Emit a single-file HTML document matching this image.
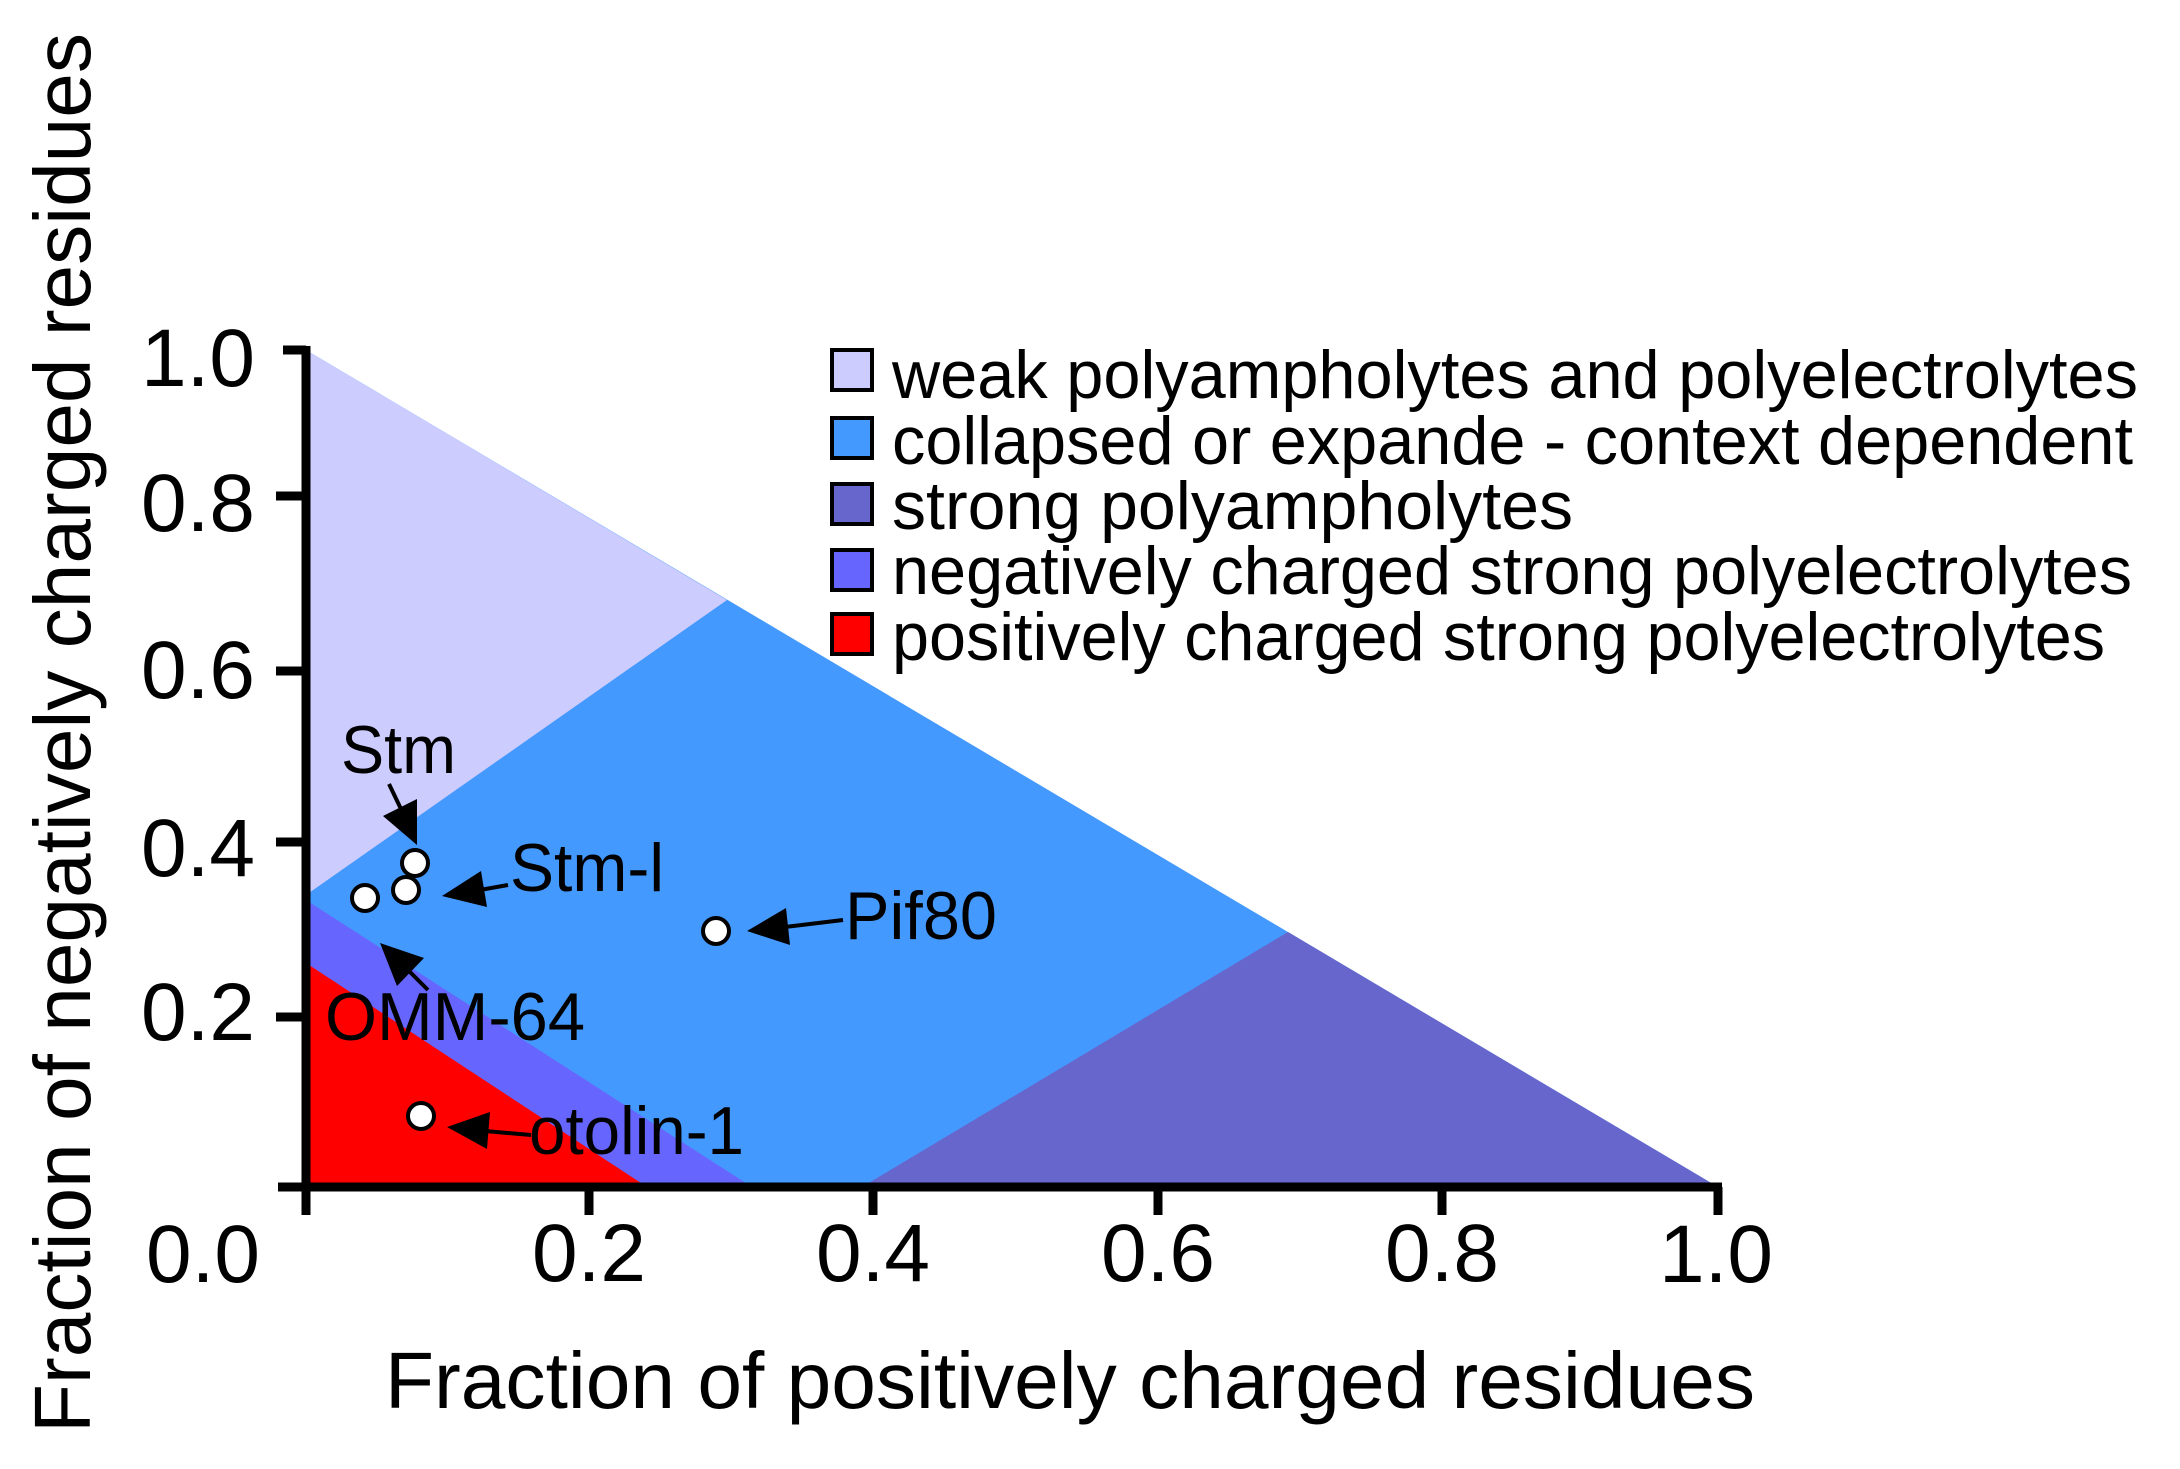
<!DOCTYPE html>
<html><head><meta charset="utf-8"><style>html,body{margin:0;padding:0;background:#fff}svg{display:block}</style></head>
<body>
<svg width="2180" height="1469" viewBox="0 0 2180 1469" xmlns="http://www.w3.org/2000/svg" font-family="Liberation Sans, Arial, sans-serif">
<polygon points="306,1187 1718,1187 306,350" fill="#4499ff"/>
<polygon points="306,350 727,600 306,895" fill="#ccccff"/>
<polygon points="862,1187 1288,932 1718,1187" fill="#6666cc"/>
<polygon points="306,900 752,1187 306,1187" fill="#6666ff"/>
<polygon points="306,963 647,1187 306,1187" fill="#ff0000"/>
<g stroke="#000" stroke-width="9" fill="none">
<line x1="306" y1="346" x2="306" y2="1191"/>
<line x1="278" y1="1187" x2="1722" y2="1187"/>
<line x1="283" y1="350" x2="306" y2="350"/>
<line x1="276" y1="496" x2="306" y2="496"/>
<line x1="276" y1="671" x2="306" y2="671"/>
<line x1="276" y1="842" x2="306" y2="842"/>
<line x1="276" y1="1017" x2="306" y2="1017"/>
<line x1="306" y1="1187" x2="306" y2="1215"/>
<line x1="589" y1="1187" x2="589" y2="1215"/>
<line x1="873" y1="1187" x2="873" y2="1215"/>
<line x1="1158" y1="1187" x2="1158" y2="1215"/>
<line x1="1442" y1="1187" x2="1442" y2="1215"/>
<line x1="1718" y1="1187" x2="1718" y2="1215"/>
</g>
<g font-size="82" fill="#000" text-anchor="end">
<text x="255" y="386">1.0</text>
<text x="255" y="531">0.8</text>
<text x="255" y="698">0.6</text>
<text x="255" y="876">0.4</text>
<text x="255" y="1040">0.2</text>
<text x="260" y="1282">0.0</text>
</g>
<g font-size="82" fill="#000" text-anchor="middle">
<text x="589" y="1281">0.2</text>
<text x="873" y="1281">0.4</text>
<text x="1158" y="1281">0.6</text>
<text x="1442" y="1281">0.8</text>
<text x="1716" y="1282">1.0</text>
</g>
<text x="385" y="1408" font-size="80" textLength="1370" lengthAdjust="spacingAndGlyphs">Fraction of positively charged residues</text>
<text transform="translate(90,1433) rotate(-90)" font-size="80" textLength="1400" lengthAdjust="spacingAndGlyphs">Fraction of negatively charged residues</text>
<g stroke="#000" stroke-width="4">
<rect x="832" y="350" width="40" height="40" fill="#ccccff"/>
<rect x="832" y="418" width="40" height="40" fill="#4499ff"/>
<rect x="832" y="484" width="40" height="40" fill="#6666cc"/>
<rect x="832" y="550" width="40" height="40" fill="#6666ff"/>
<rect x="832" y="614" width="40" height="40" fill="#ff0000"/>
</g>
<g font-size="68" fill="#000">
<text x="892" y="398" textLength="1246" lengthAdjust="spacingAndGlyphs">weak polyampholytes and polyelectrolytes</text>
<text x="892" y="464" textLength="1241" lengthAdjust="spacingAndGlyphs">collapsed or expande - context dependent</text>
<text x="892" y="529" textLength="681" lengthAdjust="spacingAndGlyphs">strong polyampholytes</text>
<text x="892" y="594" textLength="1240" lengthAdjust="spacingAndGlyphs">negatively charged strong polyelectrolytes</text>
<text x="892" y="660" textLength="1213" lengthAdjust="spacingAndGlyphs">positively charged strong polyelectrolytes</text>
</g>
<g stroke="#000" stroke-width="4" fill="none">
<line x1="389" y1="784" x2="401" y2="809"/>
<line x1="508" y1="885" x2="480" y2="890"/>
<line x1="843" y1="920" x2="785" y2="927"/>
<line x1="428" y1="990" x2="409" y2="971"/>
<line x1="531" y1="1135" x2="485" y2="1131"/>
</g>
<g fill="#000">
<polygon points="417,845 383,816 417,799"/>
<polygon points="442,896 481,871 487,907"/>
<polygon points="747,931 786,908 790,945"/>
<polygon points="380,943 424,958 397,986"/>
<polygon points="447,1127 490,1112 487,1149"/>
</g>
<g fill="#fff" stroke="#000" stroke-width="4">
<circle cx="415" cy="863" r="13"/>
<circle cx="406" cy="890" r="13"/>
<circle cx="365" cy="898" r="13"/>
<circle cx="716" cy="931" r="13"/>
<circle cx="421" cy="1116" r="13"/>
</g>
<g font-size="68" fill="#000">
<text x="341" y="773" textLength="115" lengthAdjust="spacingAndGlyphs">Stm</text>
<text x="510" y="891" textLength="154" lengthAdjust="spacingAndGlyphs">Stm-l</text>
<text x="845" y="939" textLength="152" lengthAdjust="spacingAndGlyphs">Pif80</text>
<text x="325" y="1040" textLength="260" lengthAdjust="spacingAndGlyphs">OMM-64</text>
<text x="529" y="1154" textLength="215" lengthAdjust="spacingAndGlyphs">otolin-1</text>
</g>
</svg>
</body></html>
